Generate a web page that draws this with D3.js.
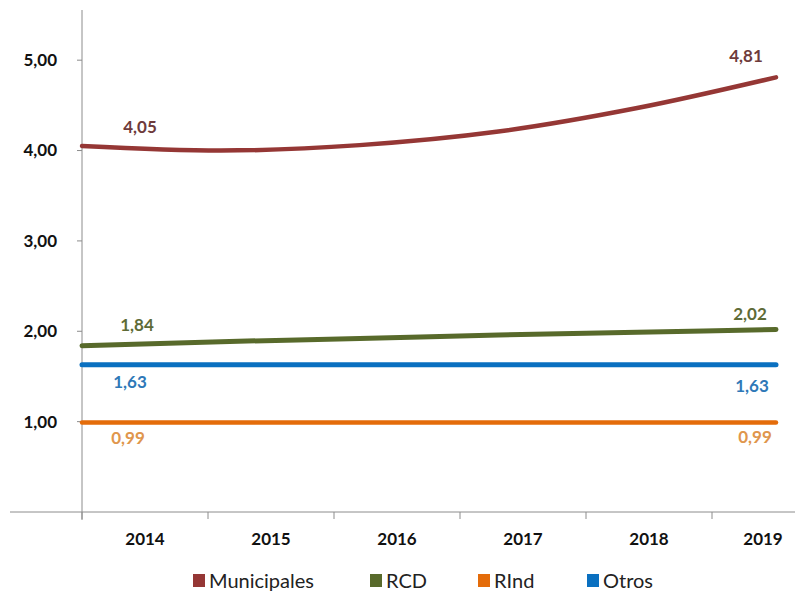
<!DOCTYPE html>
<html>
<head>
<meta charset="utf-8">
<script src="https://cdn.jsdelivr.net/npm/d3@7"></script>
<style>
  body { margin: 0; background: #fff; }
  svg text { font-family: Lato, "Open Sans", sans-serif; }
</style>
</head>
<body>
<div class="graph"></div>
<script>
// data
const years = ["2014", "2015", "2016", "2017", "2018", "2019"];
const municipales = [4.05, 4.00, 4.06, 4.21, 4.47, 4.81];
const rcd = [1.84, 1.885, 1.92, 1.96, 1.99, 2.02];
const rind = [0.99, 0.99, 0.99, 0.99, 0.99, 0.99];
const otros = [1.63, 1.63, 1.63, 1.63, 1.63, 1.63];
const yTicks = [1, 2, 3, 4, 5];
const seriesNames = ["Municipales", "RCD", "RInd", "Otros"];

const W = 803, H = 594;
const left = 82, right = 776, axisEnd = 795, bottom = 512;

const svg = d3.select(".graph").append("svg")
    .attr("width", W)
    .attr("height", H);

const y = d3.scaleLinear().domain([0, 5.5]).range([bottom, 15]);
const xBand = d3.scaleBand().domain(years).range([left, left + 126 * 6]);
const xLine = d3.scalePoint().domain(years).range([left, right]);

const comma = d3.formatLocale({ decimal: ",", thousands: ".", grouping: [3], currency: ["", "€"] }).format(".2f");

const series = [
    { name: seriesNames[0], values: municipales, color: "#953735", label: "#6e3b3b", width: 4.5,
      dl: [[140, 133], [746, 62]] },
    { name: seriesNames[1], values: rcd, color: "#586a2b", label: "#5e6b37", width: 5,
      dl: [[137, 331], [750, 320]] },
    { name: seriesNames[2], values: rind, color: "#e46c0a", label: "#e0964c", width: 4.5,
      dl: [[128, 444], [755, 443]] },
    { name: seriesNames[3], values: otros, color: "#0a70c0", label: "#2e78b8", width: 5,
      dl: [[130, 388], [752, 392]] }
];

// y axis
const gy = svg.append("g").attr("transform", "translate(" + left + ",0)");
gy.append("line").attr("x1", 0).attr("x2", 0).attr("y1", 10).attr("y2", bottom + 8)
    .style("stroke", "#8c8c8c").style("stroke-width", 1);
gy.selectAll(".ytick").data(yTicks).enter().append("line")
    .attr("x1", -5).attr("x2", 0)
    .attr("y1", d => y(d)).attr("y2", d => y(d))
    .style("stroke", "#8c8c8c");
gy.selectAll(".ylab").data(yTicks).enter().append("text")
    .attr("x", -25).attr("y", d => y(d)).attr("dy", ".35em")
    .style("text-anchor", "end")
    .style("font-size", "17px").style("font-weight", "bold").style("fill", "#111")
    .text(d => comma(d));

// x axis
const gx = svg.append("g").attr("transform", "translate(0," + bottom + ")");
gx.append("line").attr("x1", 10).attr("x2", axisEnd).attr("y1", 0).attr("y2", 0)
    .style("stroke", "#8c8c8c");
gx.selectAll(".xtick").data(years).enter().append("line")
    .attr("x1", d => xBand(d)).attr("x2", d => xBand(d))
    .attr("y1", 0).attr("y2", 7)
    .style("stroke", "#8c8c8c");
gx.selectAll(".xlab").data(years).enter().append("text")
    .attr("x", d => Math.min(xBand(d) + xBand.bandwidth() / 2, axisEnd - 32))
    .attr("y", 33)
    .style("text-anchor", "middle")
    .style("font-size", "17px").style("font-weight", "bold").style("fill", "#111")
    .text(d => d);

// lines
const line = d3.line()
    .x((d, i) => xLine(years[i]))
    .y(d => y(d))
    .curve(d3.curveMonotoneX);

svg.selectAll(".series").data(series).enter().append("path")
    .attr("d", d => line(d.values))
    .style("fill", "none")
    .style("stroke", d => d.color)
    .style("stroke-width", d => d.width)
    .style("stroke-linecap", "round");

// end labels
series.forEach(s => {
    const ends = [s.values[0], s.values[s.values.length - 1]];
    svg.selectAll(null).data(ends).enter().append("text")
        .attr("x", (d, i) => s.dl[i][0])
        .attr("y", (d, i) => s.dl[i][1])
        .style("text-anchor", "middle")
        .style("font-size", "17px").style("font-weight", "bold")
        .style("fill", s.label)
        .text(d => comma(d));
});

// legend
const legendX = [193, 370, 478, 587];
const lg = svg.selectAll(".legend").data(series).enter().append("g")
    .attr("transform", (d, i) => "translate(" + legendX[i] + ",574)");
lg.append("rect").attr("width", 12).attr("height", 13).style("fill", d => d.color);
lg.append("text").attr("x", 16).attr("y", 7).attr("dy", ".35em")
    .style("font-size", "20px").style("fill", "#222")
    .text(d => d.name);
</script>
</body>
</html>
